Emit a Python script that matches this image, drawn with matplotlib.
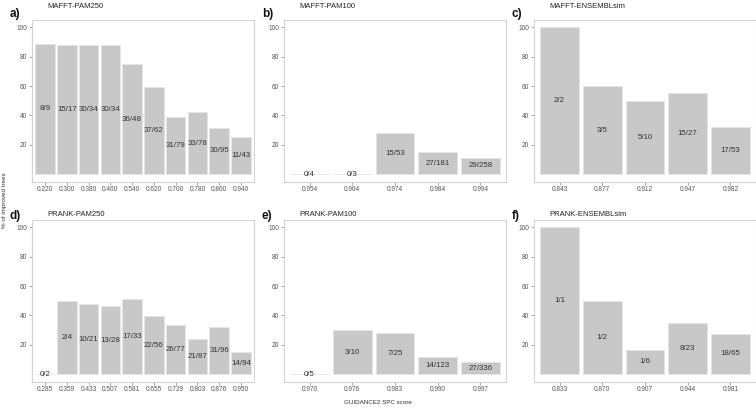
import matplotlib
matplotlib.use("Agg")
import matplotlib.pyplot as plt
import numpy as np

plt.rcParams['font.family'] = ['Liberation Sans', 'DejaVu Sans']

titles = ["MAFFT-PAM250", "MAFFT-PAM100", "MAFFT-ENSEMBLsim",
          "PRANK-PAM250", "PRANK-PAM100", "PRANK-ENSEMBLsim"]
letters = ["a)", "b)", "c)", "d)", "e)", "f)"]

a_x = ["0.220", "0.300", "0.380", "0.460", "0.540", "0.620", "0.700", "0.780", "0.860", "0.940"]
a_num = [8, 15, 30, 30, 36, 37, 31, 33, 30, 11]
a_den = [9, 17, 34, 34, 48, 62, 79, 78, 95, 43]

b_x = ["0.954", "0.964", "0.974", "0.984", "0.994"]
b_num = [0, 0, 15, 27, 29]
b_den = [4, 3, 53, 181, 258]

c_x = ["0.843", "0.877", "0.912", "0.947", "0.982"]
c_num = [2, 3, 5, 15, 17]
c_den = [2, 5, 10, 27, 53]

d_x = ["0.285", "0.359", "0.433", "0.507", "0.581", "0.655", "0.729", "0.803", "0.876", "0.950"]
d_num = [0, 2, 10, 13, 17, 22, 26, 21, 31, 14]
d_den = [2, 4, 21, 28, 33, 56, 77, 87, 96, 94]

e_x = ["0.970", "0.976", "0.983", "0.990", "0.997"]
e_num = [0, 3, 7, 14, 27]
e_den = [5, 10, 25, 123, 336]

f_x = ["0.833", "0.870", "0.907", "0.944", "0.981"]
f_num = [1, 1, 1, 8, 18]
f_den = [1, 2, 6, 23, 65]

panels = [(a_x, a_num, a_den), (b_x, b_num, b_den), (c_x, c_num, c_den),
          (d_x, d_num, d_den), (e_x, e_num, e_den), (f_x, f_num, f_den)]

W, H = 756, 412
fig = plt.figure(figsize=(W / 100, H / 100), dpi=100)

lefts = [32, 284, 534]
pw = 222
tops = [20, 220]
ph = 161.5
title_y = [7, 214]
letter_y = [14, 216]

def fx(px):
    return px / W

def fy(py):
    return 1 - py / H

for i, (xl, num, den) in enumerate(panels):
    r, c = divmod(i, 3)
    L = lefts[c]
    T = tops[r]
    ax = fig.add_axes([fx(L), fy(T + ph), pw / W, ph / H])
    n = len(xl)
    pos = np.arange(1, n + 1)
    pct = [100.0 * a / b for a, b in zip(num, den)]
    ax.bar(pos, pct, width=0.9, color="#C8C8C8", edgecolor="#E6E6E6", linewidth=0.6)
    for p, v, a, b in zip(pos, pct, num, den):
        ax.text(p, v / 2, f"{a}/{b}", ha="center", va="center", fontsize=5.7, color="#333333")
    ax.set_xlim(0.4, n + 0.6)
    ax.set_ylim(-5, 105)
    ax.set_xticks(pos)
    ax.set_xticklabels(xl)
    ax.set_yticks([20, 40, 60, 80, 100])
    ax.tick_params(axis="both", labelsize=4.7, colors="#7F7F7F", labelcolor="#555555",
                   length=2, width=0.5, pad=1.5)
    for s in ax.spines.values():
        s.set_color("#D4D4D4")
        s.set_linewidth(0.8)
    fig.text(fx(L + 15), fy(title_y[r]), titles[i], fontsize=5.5, color="#222222",
             ha="left", va="center")
    fig.text(fx(L - 22), fy(letter_y[r]), letters[i], fontsize=8.5, fontweight="bold",
             color="#111111", ha="left", va="center")

fig.text(fx(5), fy(200), "% of improved trees", rotation=90, fontsize=4.5,
         color="#333333", ha="center", va="center")
fig.text(fx(378), fy(402), "GUIDANCE2 SPC score", fontsize=4.5,
         color="#333333", ha="center", va="center")

fig.savefig("out.png", dpi=100, facecolor="white")
